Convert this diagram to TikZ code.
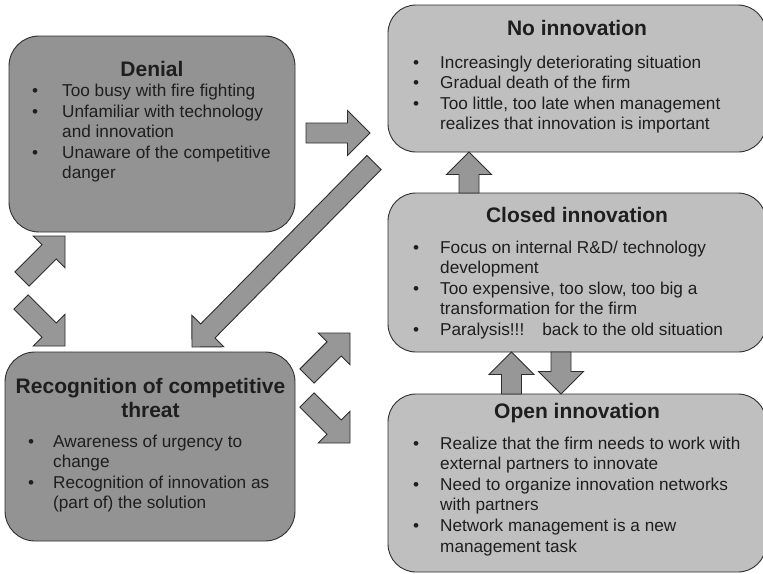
\documentclass[tikz,border=0pt]{standalone}
\usepackage{fontspec}
\setmainfont{Liberation Sans}
\usetikzlibrary{calc}
\definecolor{darkfill}{HTML}{939393}
\definecolor{lightfill}{HTML}{BFBFBF}
\definecolor{arrfill}{HTML}{979797}
\definecolor{edge}{HTML}{2E2E2E}
\definecolor{ink}{HTML}{1E1E1E}
\tikzset{
  boxbase/.style={draw=edge, line width=0.9pt, rectangle, inner sep=0pt},
  darkbox/.style={boxbase, fill=darkfill, rounded corners=30pt},
  lightbox/.style={boxbase, fill=lightfill, rounded corners=28pt},
  boxtitle/.style={inner sep=0pt, text=ink, font=\bfseries\fontsize{21}{24.5}\selectfont, anchor=base},
  boxbody/.style={inner sep=0pt, text=ink, font=\fontsize{17.2}{20.6}\selectfont, anchor=base west},
  blockarr/.style={draw=edge, line width=0.9pt, fill=arrfill, line join=miter},
}
\newcommand{\blockarrow}[2]{%
  \coordinate (#1-#2-b) at ($(#2)!22.5pt!(#1)$);
  \path[blockarr] ($(#1)!10pt!-90:(#2)$) -- ($(#1-#2-b)!10pt!-90:(#2)$)
    -- ($(#1-#2-b)!22.5pt!-90:(#2)$) -- (#2)
    -- ($(#1-#2-b)!22.5pt!90:(#2)$) -- ($(#1-#2-b)!10pt!90:(#2)$)
    -- ($(#1)!10pt!90:(#2)$) -- cycle;}
\begin{document}
\begin{tikzpicture}[x=1pt,y=-1pt]
\useasboundingbox (0,0) rectangle (763,573);

% boxes
\node[darkbox, minimum width=286pt, minimum height=196pt] (denial) at (152,134) {};
\node[darkbox, minimum width=290pt, minimum height=189pt] (recog) at (150,446.5) {};
\node[lightbox, minimum width=378pt, minimum height=147pt] (noinn) at (577,78.5) {};
\node[lightbox, minimum width=378pt, minimum height=159pt] (closed) at (577,272.5) {};
\node[lightbox, minimum width=378pt, minimum height=178pt] (open) at (577,483) {};

% arrow end points
\coordinate (a1s) at (306,133);   \coordinate (a1e) at (370,133);
\coordinate (a2s) at (374,162.5); \coordinate (a2e) at (192,347);
\coordinate (a3s) at (22,279);    \coordinate (a3e) at (65,236);
\coordinate (a4s) at (21,302);    \coordinate (a4e) at (65,346);
\coordinate (a5s) at (307,376);   \coordinate (a5e) at (350,333);
\coordinate (a6s) at (307,400);   \coordinate (a6e) at (350,443);
\coordinate (a7s) at (469,193);   \coordinate (a7e) at (469,152);
\coordinate (a8s) at (511.5,394); \coordinate (a8e) at (511.5,352);
\coordinate (a9s) at (561,352);   \coordinate (a9e) at (561,394);

\blockarrow{a1s}{a1e}
\blockarrow{a2s}{a2e}
\blockarrow{a3s}{a3e}
\blockarrow{a4s}{a4e}
\blockarrow{a5s}{a5e}
\blockarrow{a6s}{a6e}
\blockarrow{a7s}{a7e}
\blockarrow{a8s}{a8e}
\blockarrow{a9s}{a9e}

% Denial
\node[boxtitle] (dtitle) at (152,76) {Denial};
\node[boxbody] (dbody) at (32,96.5) {\begin{tabular}[t]{@{}p{30pt}@{}l@{}}
\textbullet & Too busy with fire fighting\\
\textbullet & Unfamiliar with technology\\
 & and innovation\\
\textbullet & Unaware of the competitive\\
 & danger
\end{tabular}};

% Recognition
\node[boxtitle] (rtitle1) at (150.5,393) {Recognition of competitive};
\node[boxtitle] (rtitle2) at (150.5,417) {threat};
\node[boxbody] (rbody) at (28,447) {\begin{tabular}[t]{@{}p{25pt}@{}l@{}}
\textbullet & Awareness of urgency to\\
 & change\\
\textbullet & Recognition of innovation as\\
 & (part of) the solution
\end{tabular}};

% No innovation
\node[boxtitle] (ntitle) at (577,35) {No innovation};
\node[boxbody] (nbody) at (413,68) {\begin{tabular}[t]{@{}p{27pt}@{}l@{}}
\textbullet & Increasingly deteriorating situation\\
\textbullet & Gradual death of the firm\\
\textbullet & Too little, too late when management\\
 & realizes that innovation is important
\end{tabular}};

% Closed innovation
\node[boxtitle] (ctitle) at (577,222) {Closed innovation};
\node[boxbody] (cbody) at (413,253) {\begin{tabular}[t]{@{}p{27pt}@{}l@{}}
\textbullet & Focus on internal R\&D/ technology\\
 & development\\
\textbullet & Too expensive, too slow, too big a\\
 & transformation for the firm\\
\textbullet & Paralysis!!!\hspace{18pt}back to the old situation
\end{tabular}};

% Open innovation
\node[boxtitle] (otitle) at (577,418) {Open innovation};
\node[boxbody] (obody) at (413,449) {\begin{tabular}[t]{@{}p{27pt}@{}l@{}}
\textbullet & Realize that the firm needs to work with\\
 & external partners to innovate\\
\textbullet & Need to organize innovation networks\\
 & with partners\\
\textbullet & Network management is a new\\
 & management task
\end{tabular}};
\end{tikzpicture}
\end{document}
